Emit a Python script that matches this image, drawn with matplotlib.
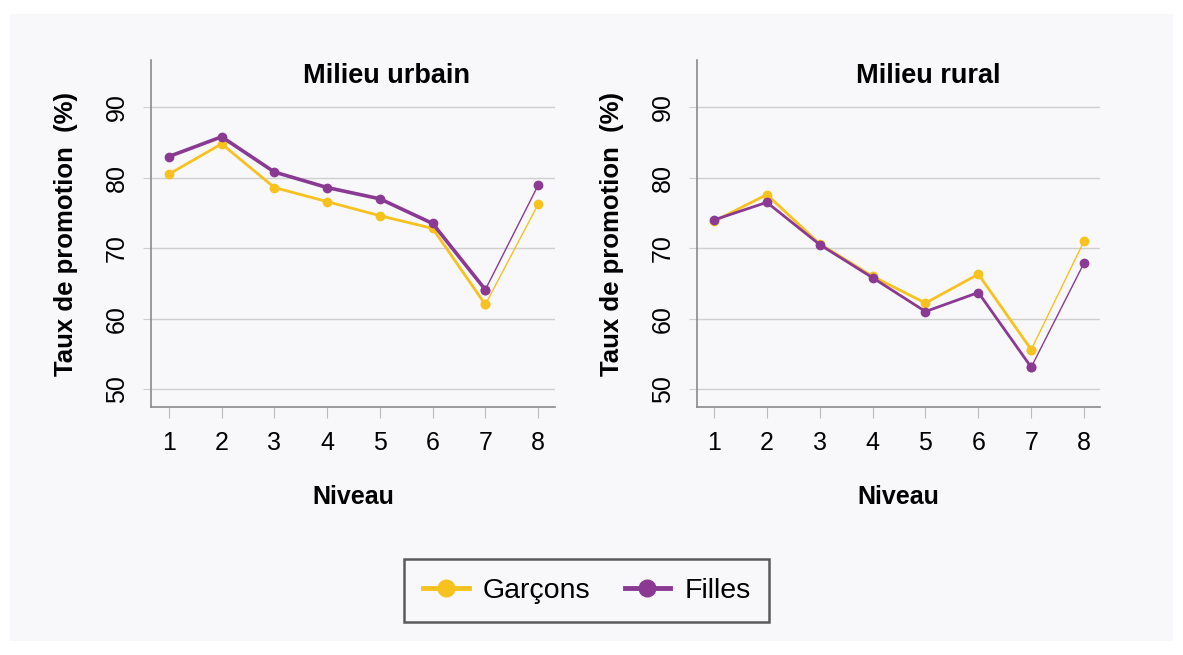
import matplotlib.pyplot as plt
import matplotlib as mpl
from matplotlib.patches import Rectangle

plt.rcParams['font.family'] = ['Liberation Sans', 'DejaVu Sans']

niveaux = [1, 2, 3, 4, 5, 6, 7, 8]

# Milieu urbain
urbain_garcons = [80.5, 84.8, 78.6, 76.6, 74.6, 72.8, 62.0, 76.2]
urbain_filles = [83.0, 85.8, 80.8, 78.6, 77.0, 73.5, 64.1, 78.9]

# Milieu rural
rural_garcons = [73.8, 77.6, 70.6, 66.0, 62.2, 66.3, 55.6, 71.0]
rural_filles = [74.0, 76.5, 70.5, 65.8, 61.0, 63.7, 53.1, 67.9]

yticks = [50, 60, 70, 80, 90]
titles = ['Milieu urbain', 'Milieu rural']

c_garcons = '#f7c21e'
c_filles = '#8b3a93'
bg = '#f8f7fa'
grid_c = '#cfcfcf'
spine_c = '#8a8a8a'


def plot_panel(ax, garcons, filles, title, title_x, xlim, lw_f=2.0):
    for vals, col, lw in [(garcons, c_garcons, 2.0), (filles, c_filles, lw_f)]:
        ax.plot(niveaux[:7], vals[:7], color=col, lw=lw, marker='o', ms=6, zorder=3)
        ax.plot(niveaux[6:], vals[6:], color=col, lw=1, marker='o', ms=6, zorder=3)
    ax.set_facecolor('none')
    ax.set_xlim(*xlim)
    ax.set_ylim(47.45, 96.7)
    ax.set_yticks(yticks)
    ax.set_xticks(niveaux)
    ax.grid(axis='y', color=grid_c, lw=1)
    ax.set_axisbelow(True)
    for s in ['top', 'right']:
        ax.spines[s].set_visible(False)
    for s in ['left', 'bottom']:
        ax.spines[s].set_color(spine_c)
        ax.spines[s].set_linewidth(1.2)
    ax.tick_params(axis='y', length=6, color=grid_c, labelsize=18, pad=10)
    for lab in ax.get_yticklabels():
        lab.set_rotation(90)
        lab.set_va('center')
    ax.tick_params(axis='x', length=8, color='#bbbbbb', labelsize=18, pad=9)
    ax.set_ylabel('Taux de promotion  (%)', fontsize=18.5, fontweight='bold', labelpad=19)
    ax.set_xlabel('Niveau', fontsize=18, fontweight='bold', labelpad=22)
    ax.text(title_x, 0.955, title, transform=ax.transAxes, ha='center', va='center',
            fontsize=19.5, fontweight='bold')


fig = plt.figure(figsize=(11.83, 6.55), dpi=100, facecolor='white')
fig.patches.append(Rectangle((10 / 1183, 1 - 641 / 655), 1163 / 1183, 627 / 655,
                             transform=fig.transFigure, facecolor=bg, edgecolor='none',
                             zorder=-10))

ax1 = fig.add_axes([0.1276, 0.3786, 0.3415, 0.5298])
ax2 = fig.add_axes([0.5892, 0.3786, 0.3406, 0.5298])

plot_panel(ax1, urbain_garcons, urbain_filles, titles[0], 0.584, (0.66, 8.32), lw_f=2.6)
plot_panel(ax2, rural_garcons, rural_filles, titles[1], 0.573, (0.68, 8.30))

h1 = mpl.lines.Line2D([], [], color=c_garcons, lw=3.5, marker='o', ms=12)
h2 = mpl.lines.Line2D([], [], color=c_filles, lw=3.5, marker='o', ms=12)
leg = fig.legend([h1, h2], ['Garçons', 'Filles'], loc='center', ncol=2,
                 bbox_to_anchor=(0.496, 0.098), fontsize=20.5, frameon=True,
                 fancybox=False, edgecolor='#333333', facecolor=bg,
                 handlelength=1.6, columnspacing=1.2, borderpad=0.65, handletextpad=0.5)
leg.get_frame().set_linewidth(1.8)

fig.savefig('out.png', dpi=100, facecolor='white')
